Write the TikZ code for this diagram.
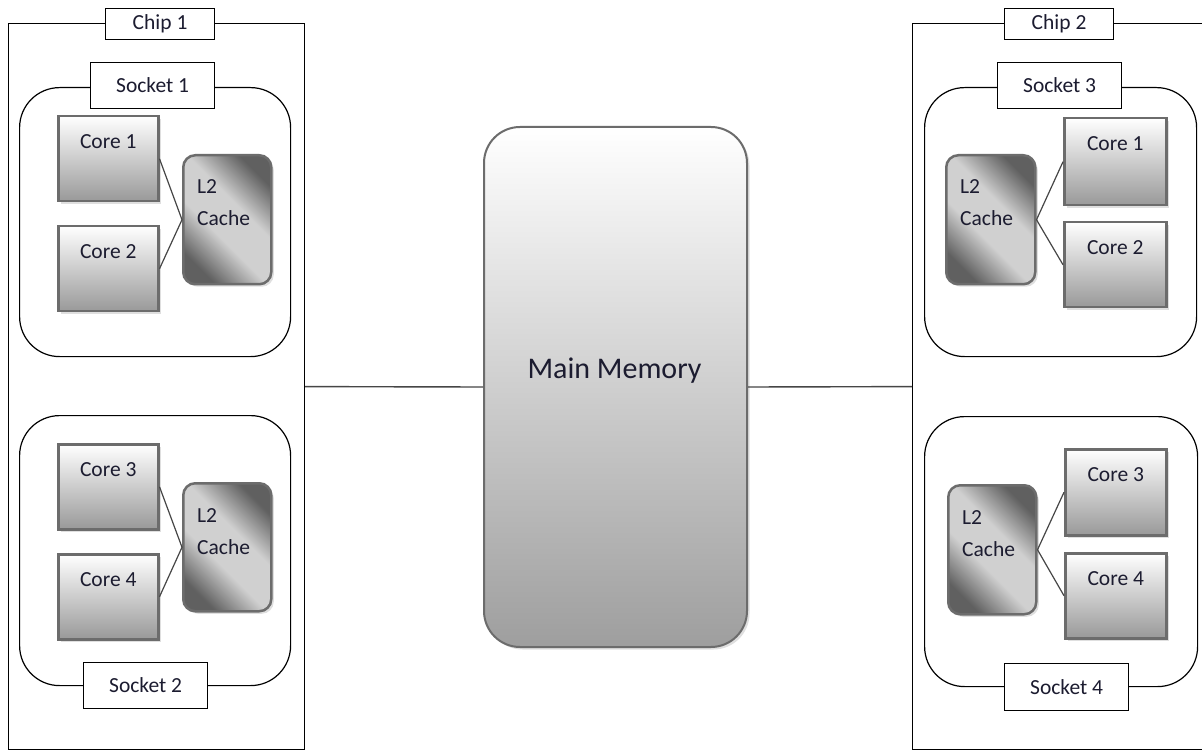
\documentclass[tikz,border=0pt]{standalone}
\usepackage{fontspec}
\setmainfont{Carlito}
\usetikzlibrary{shadows}

\definecolor{inkc}{RGB}{28,28,48}
\definecolor{boxedge}{RGB}{108,108,108}
\definecolor{linkc}{RGB}{70,70,70}
\definecolor{cachedark}{RGB}{96,96,96}
\definecolor{cachelight}{RGB}{208,208,208}

% diagonal dark-light-dark shading for the cache blocks
\pgfdeclarehorizontalshading{cacheshade}{100bp}{%
  color(0bp)=(cachedark); color(25bp)=(cachedark); color(42bp)=(cachelight);
  color(58bp)=(cachelight); color(75bp)=(cachedark); color(100bp)=(cachedark)}

% core block: name, x, y, width, height, label
\newcommand\makecore[6]{%
  \node[corebox, minimum width=#4pt, minimum height=#5pt] (#1) at (#2,#3) {};
  \node[txt] (#1-t) at ([yshift=-27pt]#1.north) {#6};}

% cache block: name, x, y, width, height
\newcommand\makecache[5]{%
  \node[cachebox, minimum width=#4pt, minimum height=#5pt] (#1) at (#2,#3) {};
  \node[txt, anchor=base west] (#1-a) at ([xshift=15pt,yshift=-40pt]#1.north west) {L2};
  \node[txt, anchor=base west] (#1-b) at ([xshift=15pt,yshift=-72pt]#1.north west) {Cache};}

\begin{document}
\begin{tikzpicture}[x=1pt,y=-1pt,
  txt/.style={text=inkc, font=\fontsize{21.5}{25}\selectfont, inner sep=0pt},
  tagbox/.style={draw=black, line width=1.2pt, fill=white, anchor=north west,
    inner sep=0pt, text=inkc, font=\fontsize{21.5}{25}\selectfont},
  chipbox/.style={draw=black, line width=1.2pt, anchor=north west, inner sep=0pt},
  socketbox/.style={draw=black, line width=1.2pt, rounded corners=40pt,
    anchor=north west, inner sep=0pt},
  corebox/.style={draw=boxedge, line width=2.5pt, top color=white,
    bottom color=black!40, anchor=north west, inner sep=0pt,
    drop shadow={shadow xshift=2.5pt, shadow yshift=-2.5pt, opacity=0.25}},
  cachebox/.style={draw=boxedge, line width=2.5pt, rounded corners=12pt,
    shading=cacheshade, shading angle=45, anchor=north west, inner sep=0pt,
    drop shadow={shadow xshift=2.5pt, shadow yshift=-2.5pt, opacity=0.25}},
  membox/.style={draw=boxedge, line width=2pt, rounded corners=36pt,
    top color=white, bottom color=black!38, anchor=north west, inner sep=0pt,
    drop shadow={shadow xshift=2.5pt, shadow yshift=-2.5pt, opacity=0.25}},
  link/.style={draw=linkc, line width=1.2pt},
  buslink/.style={draw=linkc, line width=1.4pt},
]
\clip (0,0) rectangle (1202,751);
\fill[white] (0,0) rectangle (1202,751);

% chips
\node[chipbox, minimum width=296pt, minimum height=726pt] (chip1) at (8,23) {};
\node[chipbox, minimum width=300pt, minimum height=726pt] (chip2) at (912,23) {};

% sockets
\node[socketbox, minimum width=271pt, minimum height=269pt] (sock1) at (19,87) {};
\node[socketbox, minimum width=271pt, minimum height=270pt] (sock2) at (19,415) {};
\node[socketbox, minimum width=272pt, minimum height=269pt] (sock3) at (924,87) {};
\node[socketbox, minimum width=273pt, minimum height=270pt] (sock4) at (924,416) {};

% main memory
\node[membox, minimum width=263pt, minimum height=520pt] (mem) at (483,126) {};
\node[txt, font=\fontsize{30}{34}\selectfont] (mem-t) at (614.5,371) {Main Memory};

% cores and caches, chip 1
\makecore{c1a}{57}{115}{100}{85}{Core 1}
\makecore{c1b}{57}{225}{100}{85}{Core 2}
\makecache{l2a}{182}{154}{88}{129}
\makecore{c1c}{57}{443}{100}{85}{Core 3}
\makecore{c1d}{57}{553}{100}{85}{Core 4}
\makecache{l2b}{182}{482}{88}{128}

% cores and caches, chip 2
\makecore{c2a}{1063}{117}{102}{87}{Core 1}
\makecore{c2b}{1063}{221}{102}{85}{Core 2}
\makecache{l2c}{945}{154}{89}{129}
\makecore{c2c}{1064}{448}{101}{86}{Core 3}
\makecore{c2d}{1064}{552}{101}{85}{Core 4}
\makecache{l2d}{947}{484}{88}{129}

% core to cache links
\draw[link] (c1a.east) -- (l2a.west) -- (c1b.east);
\draw[link] (c1c.east) -- (l2b.west) -- (c1d.east);
\draw[link] (c2a.west) -- (l2c.east) -- (c2b.west);
\draw[link] (c2c.west) -- (l2d.east) -- (c2d.west);

% chips to memory
\draw[buslink] (chip1.east) -- (mem.west);
\draw[buslink] (mem.east) -- (chip2.west);

% tags
\node[tagbox, minimum width=109pt, minimum height=31pt] (tag-chip1) at (105,8) {Chip 1};
\node[tagbox, minimum width=109pt, minimum height=31pt] (tag-chip2) at (1004,8) {Chip 2};
\node[tagbox, minimum width=124pt, minimum height=46pt] (tag-s1) at (90,62) {Socket 1};
\node[tagbox, minimum width=124pt, minimum height=46pt] (tag-s2) at (83,662) {Socket 2};
\node[tagbox, minimum width=124pt, minimum height=46pt] (tag-s3) at (997,62) {Socket 3};
\node[tagbox, minimum width=124pt, minimum height=47pt] (tag-s4) at (1004,663) {Socket 4};
\end{tikzpicture}
\end{document}
